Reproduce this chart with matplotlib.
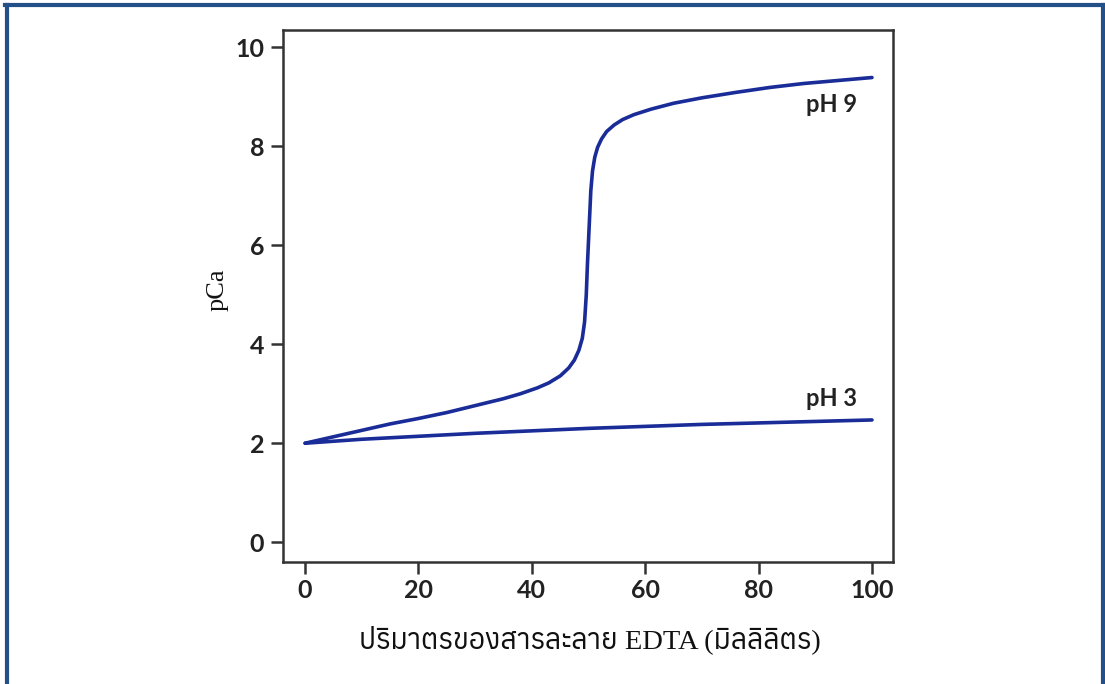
import matplotlib
matplotlib.use('Agg')
from matplotlib import pyplot as plt
from matplotlib import font_manager
from matplotlib.ft2font import FT2Font
from matplotlib.lines import Line2D

# titration curves
vol_ph9 = [0, 5, 10, 15, 20, 25, 30, 35, 38, 41, 43, 45, 46.5, 47.5, 48.3, 48.9, 49.3, 49.6, 49.8, 50.0,
           50.2, 50.4, 50.7, 51.1, 51.6, 52.3, 53.2, 54.5, 56, 58, 61, 65, 70, 76, 82, 88, 94, 100]
pca_ph9 = [2.00, 2.13, 2.26, 2.39, 2.50, 2.62, 2.76, 2.90, 3.00, 3.12, 3.22, 3.36, 3.52, 3.68, 3.88, 4.12,
           4.45, 5.0, 5.6, 6.1, 6.6, 7.1, 7.5, 7.78, 7.98, 8.15, 8.30, 8.43, 8.54, 8.64, 8.75, 8.87, 8.98,
           9.09, 9.19, 9.27, 9.33, 9.39]

vol_ph3 = [0, 10, 20, 30, 40, 50, 60, 70, 80, 90, 100]
pca_ph3 = [2.00, 2.08, 2.14, 2.20, 2.25, 2.30, 2.34, 2.38, 2.41, 2.44, 2.47]

x_ticks = [0, 20, 40, 60, 80, 100]
y_ticks = [0, 2, 4, 6, 8, 10]

xlabel = 'ปริมาตรของสารละลาย EDTA (มิลลิลิตร)'
ylabel = 'pCa'


def has_thai(path):
    try:
        return FT2Font(path).get_char_index(0x0E1B) != 0
    except Exception:
        return False


thai_fonts = sorted({f.name for f in font_manager.fontManager.ttflist if has_thai(f.fname)})
label_family = ['Liberation Serif'] + thai_fonts[:1] + ['DejaVu Sans']

line_color = '#1a2c98'
frame_color = '#333333'
text_color = '#222222'
tick_font = 'Lato'

fig = plt.figure(figsize=(11.05, 6.84), dpi=100)
ax = fig.add_axes([0.2561, 0.1784, 0.552, 0.7777])

ax.plot(vol_ph9, pca_ph9, color=line_color, lw=2.6, solid_capstyle='round', solid_joinstyle='round')
ax.plot(vol_ph3, pca_ph3, color=line_color, lw=2.6, solid_capstyle='round', solid_joinstyle='round')

ax.set_xlim(-3.9, 103.7)
ax.set_ylim(-0.4, 10.35)
ax.set_xticks(x_ticks)
ax.set_yticks(y_ticks)

for sp in ax.spines.values():
    sp.set_color(frame_color)
    sp.set_linewidth(1.8)
ax.tick_params(direction='out', length=8.5, width=1.8, color=frame_color,
               labelsize=18, labelcolor=text_color)
ax.tick_params(axis='y', pad=5)
ax.tick_params(axis='x', pad=4)
for lab in ax.get_xticklabels() + ax.get_yticklabels():
    lab.set_fontfamily(tick_font)
    lab.set_fontweight('bold')

ax.text(92.9, 8.85, 'pH 9', fontsize=17, family=tick_font, weight='bold', color=text_color,
        ha='center', va='center')
ax.text(92.9, 2.91, 'pH 3', fontsize=17, family=tick_font, weight='bold', color=text_color,
        ha='center', va='center')

fig.text(590 / 1105, 1 - 640 / 684, xlabel, fontsize=20.5, family=label_family,
         color='#111111', ha='center', va='center')
fig.text(218 / 1105, 1 - 290 / 684, ylabel, fontsize=19, family=label_family,
         color='#111111', ha='center', va='center', rotation=90)

# blue frame round the picture (open at the bottom)
border = '#24508a'
fig.add_artist(Line2D([7 / 1105, 7 / 1105], [0, 1 - 5 / 684], color=border, lw=3, transform=fig.transFigure))
fig.add_artist(Line2D([1103 / 1105, 1103 / 1105], [0, 1 - 5 / 684], color=border, lw=3, transform=fig.transFigure))
fig.add_artist(Line2D([5 / 1105, 1105 / 1105], [1 - 5 / 684, 1 - 5 / 684], color=border, lw=3,
                      transform=fig.transFigure))

fig.savefig('out.png', dpi=100)
